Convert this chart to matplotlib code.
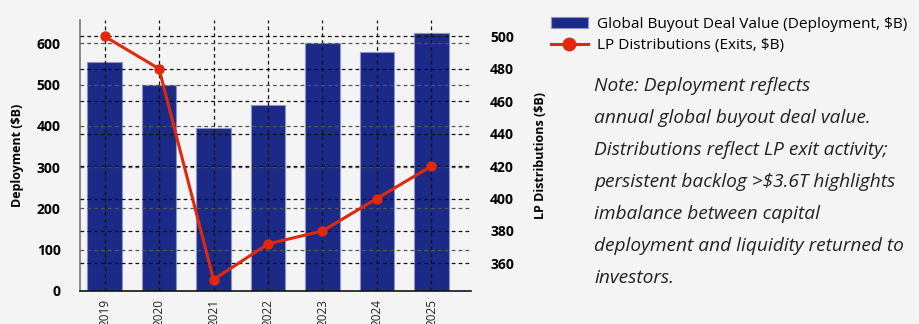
import matplotlib
matplotlib.use("Agg")
import matplotlib.pyplot as plt
from matplotlib.lines import Line2D
from matplotlib.patches import Patch
import numpy as np

years = ["2019", "2020", "2021", "2022", "2023", "2024", "2025"]
deployment = [555, 500, 395, 450, 600, 580, 625]
distributions = [500, 480, 350, 372, 380, 400, 420]

BG = "#f4f4f4"
NAVY = "#1b2a87"
RED = "#e0280c"
FONT = "Open Sans"

plt.rcParams["font.family"] = [FONT, "DejaVu Sans"]

fig = plt.figure(figsize=(9.2, 3.24), dpi=100, facecolor=BG)
ax = fig.add_axes([0.087, 0.102, 0.4246, 0.836], facecolor=BG)
ax2 = ax.twinx()
ax2.set_facecolor("none")

x = np.arange(len(years))
ax.bar(x, deployment, width=0.64, color=NAVY, edgecolor="#8d93c8",
       linewidth=0.8, zorder=0.5)
ax.set_ylim(0, max(deployment) * 1.05)
ax.set_xlim(-0.45, 6.72)
ax.set_yticks([0, 100, 200, 300, 400, 500, 600])
ax.yaxis.grid(True, linestyle=(0, (3, 2.5)), color="#555555", linewidth=0.9, zorder=2)
ax.xaxis.grid(True, linestyle=(0, (3, 2.5)), color="#111111", linewidth=0.9, zorder=2)
ax.set_axisbelow(False)

ax2.plot(x, distributions, color=RED, linewidth=2.2, marker="o",
         markersize=6.5, zorder=5)
ax2.set_ylim(min(distributions) * 0.98, max(distributions) * 1.02)
ax2.set_yticks([360, 380, 400, 420, 440, 460, 480, 500])
ax2.yaxis.grid(True, linestyle=(0, (3, 2.5)), color="#111111", linewidth=0.9, zorder=2)

ax.set_xticks(x)
ax.set_xticklabels(years, rotation=90, fontsize=8.5, color="#222222")
for lab in ax.get_yticklabels() + ax2.get_yticklabels():
    lab.set_fontweight("bold")
    lab.set_fontsize(10)
ax.tick_params(axis="y", length=0, pad=14)
ax.tick_params(axis="x", length=0, pad=6)
ax2.tick_params(axis="y", length=0, pad=14)

for a in (ax, ax2):
    a.spines["top"].set_visible(False)
    a.spines["right"].set_visible(False)
ax2.spines["left"].set_visible(False)
ax2.spines["bottom"].set_visible(False)
ax.spines["left"].set_color("#777777")
ax.spines["left"].set_linewidth(1.2)
ax.spines["bottom"].set_color("#111111")
ax.spines["bottom"].set_linewidth(1.2)

ax.set_ylabel("Deployment ($B)", fontsize=9, fontweight="bold", labelpad=9)
ax2.set_ylabel("LP Distributions ($B)", fontsize=9, fontweight="bold",
               rotation=90, labelpad=14)

handles = [
    Patch(facecolor=NAVY, edgecolor="#8d93c8", linewidth=0.8),
    Line2D([0], [0], color=RED, linewidth=2.2, marker="o", markersize=9),
]
fig.legend(handles, ["Global Buyout Deal Value (Deployment, $B)",
                     "LP Distributions (Exits, $B)"],
           loc="upper left", bbox_to_anchor=(0.592, 0.968), frameon=False,
           fontsize=11.1, handlelength=2.4, handletextpad=0.6,
           labelspacing=0.45, borderaxespad=0)

note = ("Note: Deployment reflects\nannual global buyout deal value.\n"
        "Distributions reflect LP exit activity;\npersistent backlog >$3.6T highlights\n"
        "imbalance between capital\ndeployment and liquidity returned to\ninvestors.")
fig.text(0.646, 0.762, note, fontsize=13.8, style="italic", color="#222222",
         va="top", ha="left", linespacing=2.0)

fig.savefig("out.png", dpi=100, facecolor=BG)
